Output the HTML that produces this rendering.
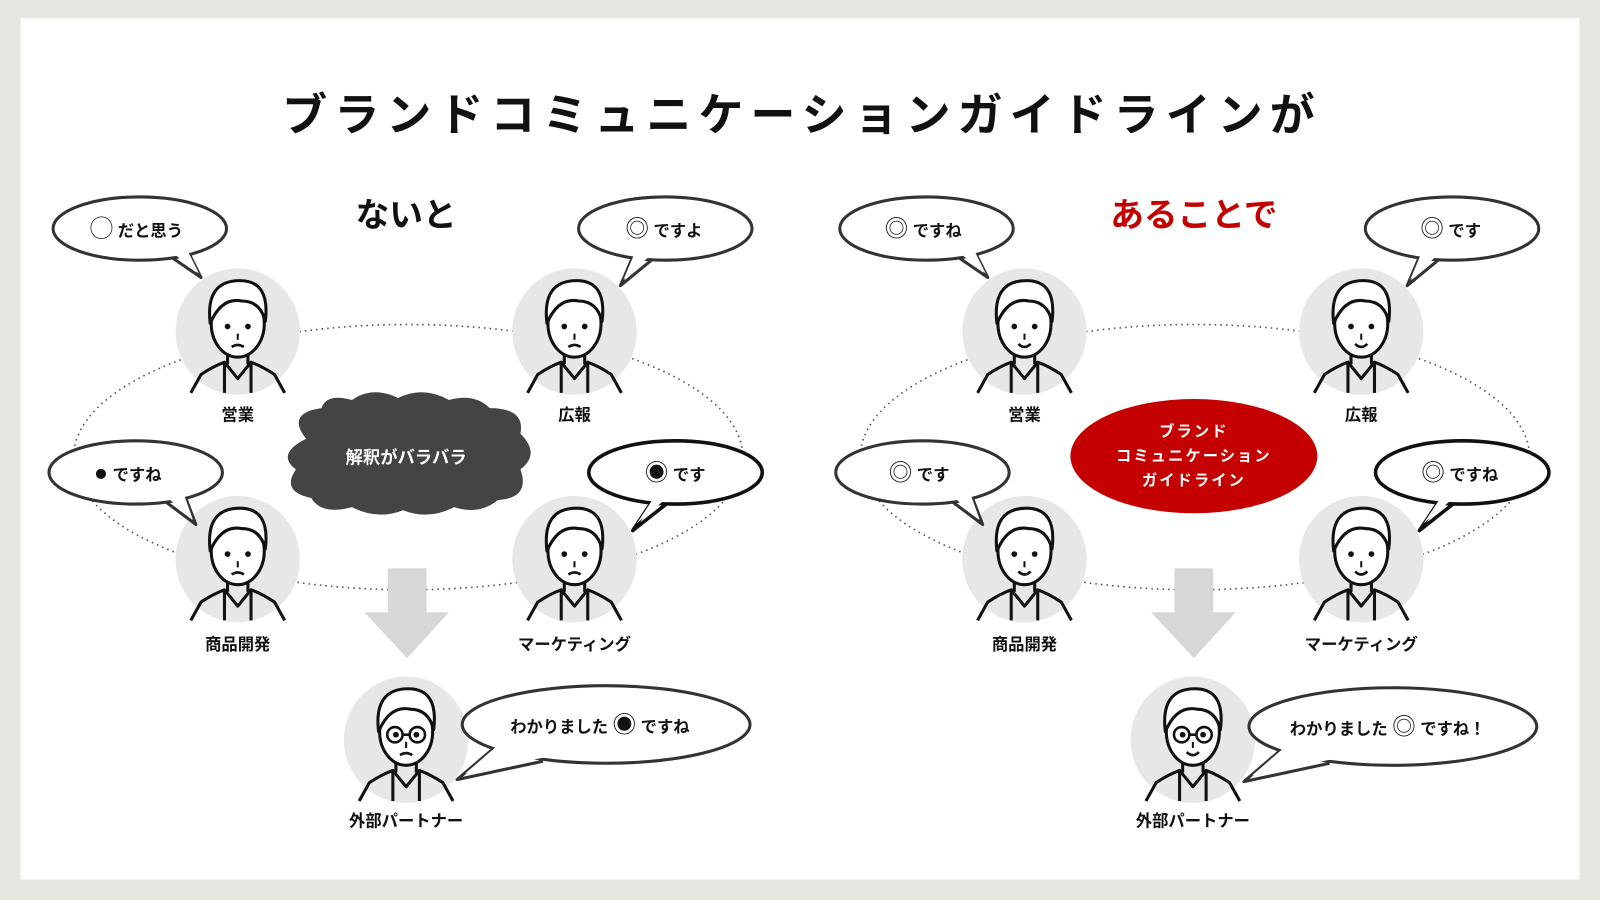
<!DOCTYPE html>
<html><head><meta charset="utf-8"><style>
html,body{margin:0;padding:0;background:#e8e6e1;}
svg{display:block;}
text{font-family:"Liberation Sans","Noto Sans CJK JP",sans-serif;}
.s{font-size:23px;font-weight:normal;}
</style></head><body>
<svg width="1600" height="900" viewBox="0 0 1568 882" preserveAspectRatio="none" xmlns="http://www.w3.org/2000/svg">
<defs>
<g id="p">
  <ellipse cx="0" cy="0" rx="61" ry="62" fill="#e7e7e7"/>
  <path d="M-46 60 L-36 42 Q-24 34 -13 30 L-13 60 M46 60 L36 42 Q24 34 13 30 L13 60 M-13 30 L0 46 L13 30" fill="none" stroke="#111" stroke-width="3" stroke-linejoin="round"/>
  <path d="M-10 18 L-10 32 M10 18 L10 32" stroke="#111" stroke-width="3"/>
  <ellipse cx="0" cy="-8" rx="26" ry="33" fill="#fff" stroke="#111" stroke-width="3"/>
  <path d="M-27 -8 Q-32 -50 2 -50 Q32 -50 27 -10 Q22 -30 4 -30 Q-16 -34 -27 -8 Z" fill="#fff" stroke="#111" stroke-width="3" stroke-linejoin="round"/>
  <circle cx="-10" cy="-5" r="2.8" fill="#111"/><circle cx="10" cy="-5" r="2.8" fill="#111"/>
  <path d="M0 2 L0 8" stroke="#111" stroke-width="2"/>
</g>
<g id="sad"><path d="M-6 15 Q0 11 6 15" fill="none" stroke="#111" stroke-width="2.5"/></g>
<g id="smile"><path d="M-6 12 Q0 18 6 12" fill="none" stroke="#111" stroke-width="2.5"/></g>
<g id="glass"><circle cx="-11" cy="-5" r="7.5" fill="none" stroke="#111" stroke-width="2.5"/><circle cx="11" cy="-5" r="7.5" fill="none" stroke="#111" stroke-width="2.5"/><path d="M-3.5 -5 L3.5 -5" stroke="#111" stroke-width="2.5"/></g>
</defs>
<rect x="20" y="18" width="1528" height="844" fill="#fff"/>
<text x="786" y="128" text-anchor="middle" font-size="44" font-weight="bold" letter-spacing="7" fill="#111">ブランドコミュニケーションガイドラインが</text>
<text x="398" y="222" text-anchor="middle" font-size="33" font-weight="bold" fill="#111">ないと</text>
<text x="1170" y="222" text-anchor="middle" font-size="33" font-weight="bold" fill="#c40000">あることで</text>

<!-- LEFT -->
<ellipse cx="400" cy="448" rx="328" ry="130" fill="none" stroke="#555" stroke-width="1.6" stroke-dasharray="1.5 4"/>
<path d="M380 557 H418 V600 H440 L399 645 L357 600 H380 Z" fill="#d7d7d7"/>
<path d="M300 430 Q280 405 315 400 Q320 385 345 392 Q365 378 390 390 Q415 378 440 392 Q465 385 480 400 Q515 400 510 425 Q530 445 510 460 Q520 488 488 490 Q470 505 445 497 Q420 510 395 500 Q370 510 345 497 Q315 505 305 488 Q275 482 290 460 Q270 445 300 430 Z" fill="#444"/>
<text x="398" y="454" text-anchor="middle" font-size="17" font-weight="bold" fill="#fff">解釈がバラバラ</text>

<use href="#p" x="233" y="325"/><use href="#sad" x="233" y="325"/>
<use href="#p" x="563" y="325"/><use href="#sad" x="563" y="325"/>
<use href="#p" x="233" y="548"/><use href="#sad" x="233" y="548"/>
<use href="#p" x="563" y="548"/><use href="#sad" x="563" y="548"/>
<use href="#p" x="398" y="725"/><use href="#glass" x="398" y="725"/><use href="#sad" x="398" y="725"/>

<g font-size="16" font-weight="bold" fill="#111" text-anchor="middle">
<text x="233" y="412">営業</text><text x="563" y="412">広報</text>
<text x="233" y="637">商品開発</text><text x="563" y="637">マーケティング</text>
<text x="398" y="810">外部パートナー</text>
</g>

<g fill="#fff" stroke="#333" stroke-width="3" stroke-linejoin="round">
<path d="M165 250 L197 272 L185 248"/><ellipse cx="137" cy="224" rx="85" ry="31"/><path d="M167 246 L195 268 L183 244" stroke="none"/>
<path d="M620 252 L608 280 L642 252"/><ellipse cx="652" cy="224" rx="85" ry="31"/><path d="M622 248 L611 274 L640 248" stroke="none"/>
<path d="M160 490 L192 514 L182 488"/><ellipse cx="133" cy="463" rx="85" ry="31"/><path d="M162 486 L189 509 L180 484" stroke="none"/>
<path d="M640 490 L620 520 L658 490" stroke="#111" stroke-width="3.5"/><ellipse cx="662" cy="463" rx="85" ry="31" stroke="#111" stroke-width="3.5"/><path d="M642 486 L624 513 L656 486" stroke="none"/>
<path d="M490 728 L448 764 L532 746"/><ellipse cx="594" cy="710" rx="141" ry="38"/><path d="M494 725 L456 758 L535 742 Z" stroke="none"/>
</g>
<g font-size="16" font-weight="bold" fill="#111">
<text x="88" y="232"><tspan class="s">◯</tspan> だと思う</text>
<text x="613" y="232"><tspan class="s">◎</tspan> ですよ</text>
<text x="92" y="471"><tspan class="s">●</tspan> ですね</text>
<text x="632" y="471"><tspan class="s">◉</tspan> です</text>
<text x="500" y="718">わかりました <tspan class="s">◉</tspan> ですね</text>
</g>

<!-- RIGHT -->
<ellipse cx="1171" cy="448" rx="328" ry="130" fill="none" stroke="#555" stroke-width="1.6" stroke-dasharray="1.5 4"/>
<path d="M1151 557 H1189 V600 H1211 L1170 645 L1128 600 H1151 Z" fill="#d7d7d7"/>
<ellipse cx="1170" cy="447" rx="121" ry="56" fill="#c40000"/>
<g font-size="15" font-weight="bold" fill="#fff" text-anchor="middle" letter-spacing="2">
<text x="1170" y="428">ブランド</text><text x="1170" y="452">コミュニケーション</text><text x="1170" y="476">ガイドライン</text>
</g>

<use href="#p" x="1004" y="325"/><use href="#smile" x="1004" y="325"/>
<use href="#p" x="1334" y="325"/><use href="#smile" x="1334" y="325"/>
<use href="#p" x="1004" y="548"/><use href="#smile" x="1004" y="548"/>
<use href="#p" x="1334" y="548"/><use href="#smile" x="1334" y="548"/>
<use href="#p" x="1169" y="725"/><use href="#glass" x="1169" y="725"/><use href="#smile" x="1169" y="725"/>

<g font-size="16" font-weight="bold" fill="#111" text-anchor="middle">
<text x="1004" y="412">営業</text><text x="1334" y="412">広報</text>
<text x="1004" y="637">商品開発</text><text x="1334" y="637">マーケティング</text>
<text x="1169" y="810">外部パートナー</text>
</g>

<g fill="#fff" stroke="#333" stroke-width="3" stroke-linejoin="round">
<path d="M936 250 L968 272 L956 248"/><ellipse cx="908" cy="224" rx="85" ry="31"/><path d="M938 246 L966 268 L954 244" stroke="none"/>
<path d="M1391 252 L1379 280 L1413 252"/><ellipse cx="1423" cy="224" rx="85" ry="31"/><path d="M1393 248 L1382 274 L1411 248" stroke="none"/>
<path d="M931 490 L963 514 L953 488"/><ellipse cx="904" cy="463" rx="85" ry="31"/><path d="M933 486 L960 509 L951 484" stroke="none"/>
<path d="M1411 490 L1391 520 L1429 490" stroke="#111" stroke-width="3.5"/><ellipse cx="1433" cy="463" rx="85" ry="31" stroke="#111" stroke-width="3.5"/><path d="M1413 486 L1395 513 L1427 486" stroke="none"/>
<path d="M1261 730 L1219 766 L1303 748"/><ellipse cx="1365" cy="712" rx="141" ry="38"/><path d="M1265 727 L1227 760 L1306 744 Z" stroke="none"/>
</g>
<g font-size="16" font-weight="bold" fill="#111">
<text x="867" y="232"><tspan class="s">◎</tspan> ですね</text>
<text x="1392" y="232"><tspan class="s">◎</tspan> です</text>
<text x="871" y="471"><tspan class="s">◎</tspan> です</text>
<text x="1393" y="471"><tspan class="s">◎</tspan> ですね</text>
<text x="1264" y="720">わかりました <tspan class="s">◎</tspan> ですね！</text>
</g>
</svg>
</body></html>
